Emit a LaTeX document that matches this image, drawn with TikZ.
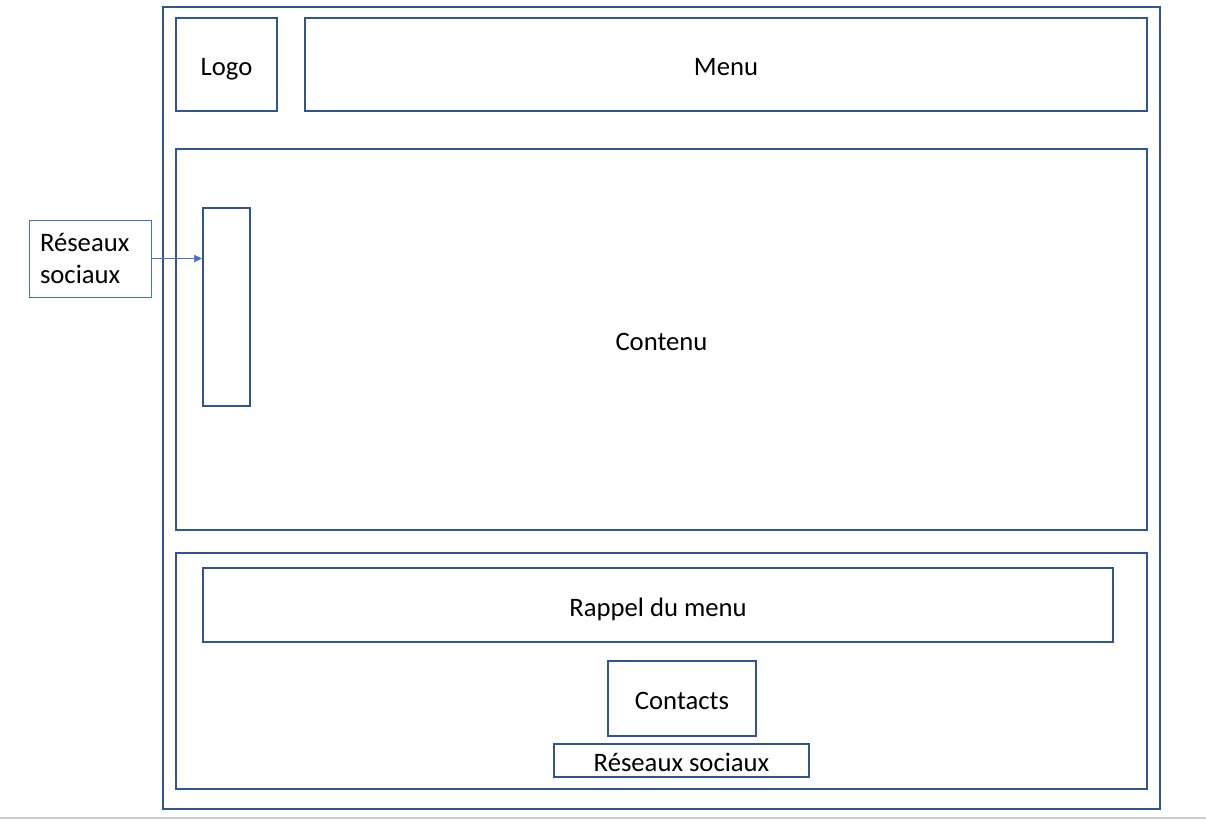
\documentclass[tikz,border=0pt]{standalone}
\usepackage{fontspec}
\setmainfont{Carlito}
\usepackage{tikz}
\usetikzlibrary{calc,positioning,arrows.meta}
\definecolor{framecol}{HTML}{2F5597}
\definecolor{notecol}{HTML}{4472C4}

\begin{document}
\begin{tikzpicture}[x=0.75pt, y=-0.75pt,
		every node/.style={font=\fontsize{20}{23.5}\selectfont},
		frame/.style={draw=framecol, line width=1.5pt, inner sep=0pt, text height=20.5pt, text depth=3.75pt},
		note/.style={draw=notecol, line width=0.75pt}]
			%%%%% START %%%%%
			
			\useasboundingbox (0, 0) rectangle (1206, 819);
			\draw[line width=1pt, color=black!20] (0, 818) -- (1206, 818);
			
			\node[frame, minimum width=997*0.75pt, minimum height=802*0.75pt] (page) at (661.5, 408) {};
			
			\node[frame, minimum width=101*0.75pt, minimum height=93*0.75pt] (logo) at (226.5, 64.5) {Logo};
			\node[frame, minimum width=842*0.75pt, minimum height=93*0.75pt] (menu) at (726, 64.5) {Menu};
			
			\node[frame, minimum width=971*0.75pt, minimum height=381*0.75pt] (contenu) at (661.5, 339.5) {Contenu};
			\node[frame, minimum width=47*0.75pt, minimum height=198*0.75pt] (sidebar) at (226.5, 307) {};
			
			\node[frame, minimum width=971*0.75pt, minimum height=236*0.75pt] (footer) at (661.5, 671) {};
			\node[frame, minimum width=910*0.75pt, minimum height=74*0.75pt] (rappel) at (658, 605) {Rappel du menu};
			\node[frame, minimum width=148*0.75pt, minimum height=75*0.75pt] (contacts) at (682, 698.5) {Contacts};
			\node[frame, minimum width=255*0.75pt, minimum height=33*0.75pt] (reseaux) at (681.5, 760.5) {Réseaux sociaux};
			
			\node[note, align=left, text width=100*0.75pt, inner xsep=11*0.75pt, minimum height=77*0.75pt] (label) at (90, 258.5) {Réseaux\\sociaux};
			\draw[-{Triangle[length=6pt, width=5.5pt]}, line width=0.5pt, color=notecol] (label.east) -- (label.east -| sidebar.west);
			
			%%%%% END %%%%%
		\end{tikzpicture}
\end{document}
